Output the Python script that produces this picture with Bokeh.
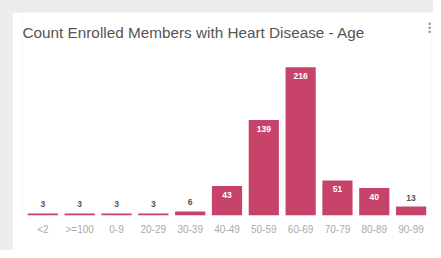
from bokeh.plotting import figure
from bokeh.models import ColumnDataSource, Label, Range1d, Spacer
from bokeh.layouts import column, row
from bokeh.embed import file_html
from bokeh.resources import INLINE

title_text = "Count Enrolled Members with Heart Disease - Age"
categories = ["<2", ">=100", "0-9", "20-29", "30-39", "40-49", "50-59", "60-69", "70-79", "80-89", "90-99"]
counts = [3, 3, 3, 3, 6, 43, 139, 216, 51, 40, 13]

inside = [c >= 20 for c in counts]
src = ColumnDataSource(dict(
    cat=categories,
    val=counts,
    txt=[str(c) for c in counts],
    col=["#ffffff" if i else "#555555" for i in inside],
    off=[9 if i else -9 for i in inside],
))

p = figure(x_range=categories, y_range=Range1d(0, 295.7), width=421, height=238,
           output_backend="svg", toolbar_location=None,
           min_border_left=10, min_border_right=2, min_border_top=0, min_border_bottom=35,
           background_fill_color="white", border_fill_color="white", outline_line_color=None)
p.x_range.range_padding = 0.054
p.x_range.range_padding_units = "absolute"

p.vbar(x="cat", top="val", width=0.82, source=src, fill_color="#c7436a", line_color=None)
p.text(x="cat", y="val", text="txt", source=src, text_color="col", y_offset="off",
       text_align="center", text_baseline="middle", text_font_size="8.5px",
       text_font_style="bold", text_font={"value": "Liberation Sans"})

p.yaxis.visible = False
p.ygrid.visible = False
p.xgrid.visible = False
ax = p.xaxis[0]
ax.axis_line_color = None
ax.major_tick_line_color = None
ax.minor_tick_line_color = None
ax.major_label_text_font = "Liberation Sans"
ax.major_label_text_font_size = "10px"
ax.major_label_text_color = "#aaaaaa"
ax.major_label_standoff = 2

p.add_layout(Label(x=0, y=183, x_units="screen", y_units="screen", text=title_text,
                   text_align="left", text_baseline="alphabetic", text_font="Liberation Sans",
                   text_font_size="15.3px", text_color="#555555"))

for yy in (192, 188, 184):
    p.add_layout(Label(x=407, y=yy, x_units="screen", y_units="screen", text="\u2022",
                       text_align="center", text_baseline="middle", text_font="Liberation Sans",
                       text_font_size="9px", text_color="#999999"))

layout = column(
    Spacer(width=433, height=12),
    row(Spacer(width=12, height=238), p),
    styles={"background-color": "#ececec"},
)
open("out.html", "w").write(file_html(layout, INLINE))
